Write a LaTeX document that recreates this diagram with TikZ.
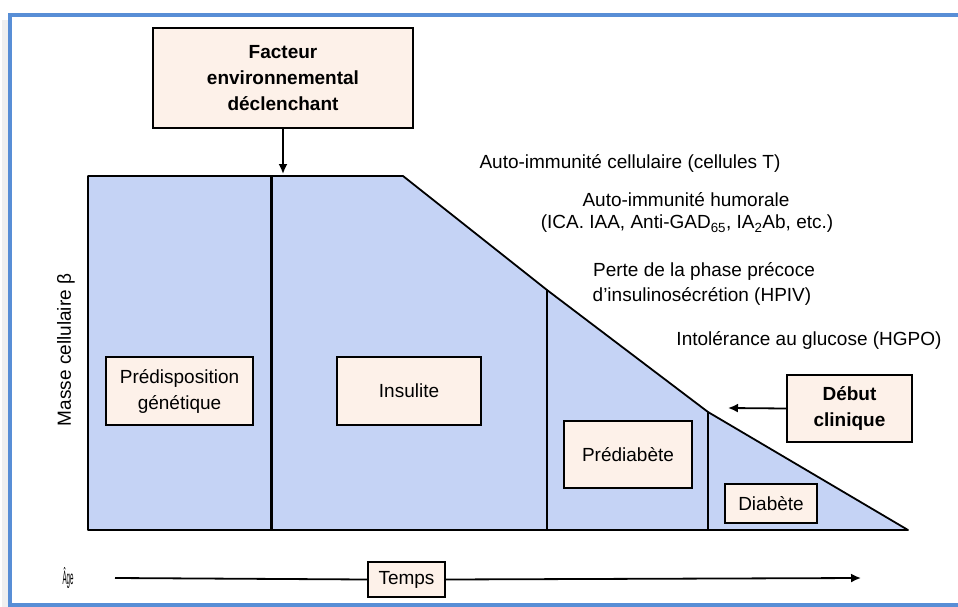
\documentclass[tikz,border=0pt]{standalone}
\usepackage{fontspec}
\setmainfont{Liberation Sans}
\usetikzlibrary{arrows.meta}
\definecolor{cellblue}{RGB}{197,211,245}
\definecolor{boxfill}{RGB}{253,241,233}
\definecolor{framebl}{RGB}{88,142,214}
\tikzset{
  lbl/.style={font=\fontsize{19}{26}\selectfont, align=center, inner sep=0pt, text=black},
  stagebox/.style={lbl, draw=black, line width=1.6pt, fill=boxfill},
  arr/.style={line width=1.8pt, -{Latex[length=10pt,width=9pt]}},
}
\begin{document}
\begin{tikzpicture}[x=1pt,y=-1pt]
\useasboundingbox (0,0) rectangle (958,607);
% frame
\fill[gray!12] (2,20) rectangle (8,607);
\draw[framebl, line width=4pt] (958,15) -- (10,15) -- (10,605) -- (958,605);
% beta-cell mass shape
\fill[cellblue] (88,176) -- (403,176) -- (547,290) -- (708,412) -- (908,530) -- (88,530) -- cycle;
\draw[line width=1.8pt, line join=round] (88,176) -- (403,176) -- (547,290) -- (708,412) -- (908,530) -- (88,530) -- cycle;
\draw[line width=3pt] (271,176) -- (271,530);
\draw[line width=1.6pt] (547,290) -- (547,530);
\draw[line width=1.6pt] (708,412) -- (708,530);
% boxes
\node[stagebox, font=\fontsize{19}{26}\selectfont\bfseries, minimum width=260pt, minimum height=100pt] (fact) at (283,78) {Facteur\\environnemental\\déclenchant};
\node[stagebox, minimum width=147pt, minimum height=68pt] (predisp) at (179.5,391) {Prédisposition\\génétique};
\node[stagebox, minimum width=144pt, minimum height=68pt] (insul) at (409,391) {Insulite};
\node[stagebox, minimum width=128pt, minimum height=67pt] (prediab) at (628,454.5) {Prédiabète};
\node[stagebox, minimum width=92pt, minimum height=39pt] (diab) at (771,503.5) {Diabète};
\node[stagebox, font=\fontsize{19}{26}\selectfont\bfseries, minimum width=125pt, minimum height=67pt] (debut) at (849.5,408.5) {Début\\clinique};
\node[stagebox, minimum width=77pt, minimum height=35pt] (temps) at (406.5,579.5) {Temps};
% labels
\node[lbl] (cellT) at (630,163) {Auto-immunité cellulaire (cellules T)};
\node[lbl] (humor) at (686,200) {Auto-immunité humorale};
\node[lbl] (ica) at (687,224) {(ICA. IAA, Anti-GAD\textsubscript{65}, IA\textsubscript{2}Ab, etc.)};
\node[lbl] (perte) at (704,271) {Perte de la phase précoce};
\node[lbl] (insulino) at (702,296) {d'insulinosécrétion (HPIV)};
\node[lbl] (intol) at (809,340) {Intolérance au glucose (HGPO)};
\node[lbl, rotate=90] (masse) at (66,350) {Masse cellulaire β};
\node[lbl] (age) at (68,578) {\resizebox{11pt}{17pt}{Âge}};
% connectors
\coordinate (topin) at (283,174);
\coordinate (clin) at (728,408);
\coordinate (tstart) at (115,578);
\coordinate (tend) at (861,578);
\draw[arr] (fact.south) -- (topin);
\draw[arr] (debut.west) -- (clin);
\draw[line width=1.8pt] (tstart) -- (temps.west);
\draw[arr] (temps.east) -- (tend);
\end{tikzpicture}
\end{document}
